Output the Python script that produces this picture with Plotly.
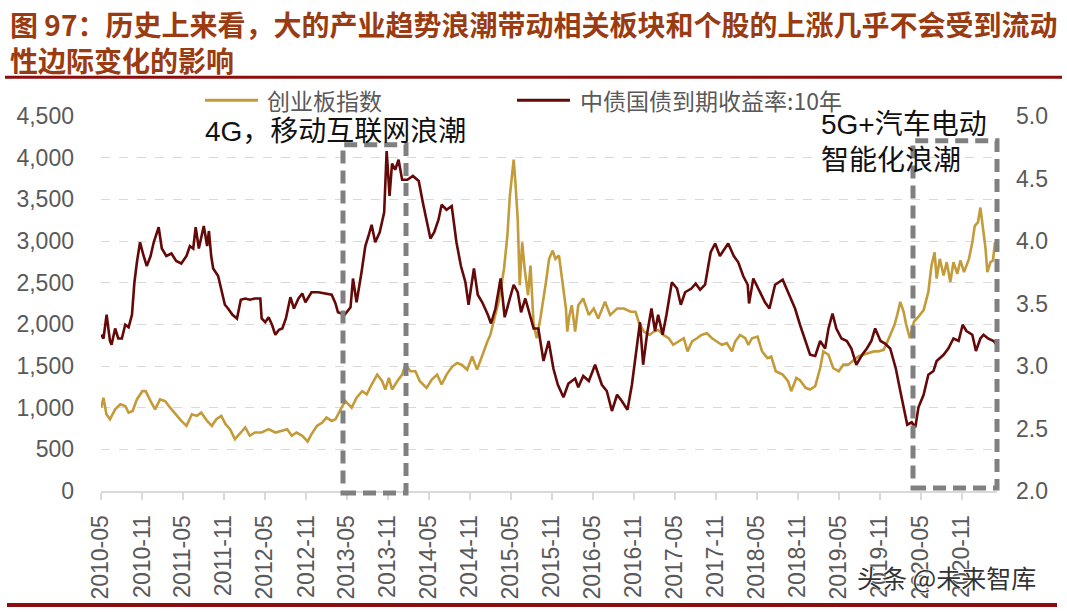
import plotly.graph_objects as go

# ---------------- data ----------------
tick_labels = ["2010-05", "2010-11", "2011-05", "2011-11", "2012-05", "2012-11",
               "2013-05", "2013-11", "2014-05", "2014-11", "2015-05", "2015-11",
               "2016-05", "2016-11", "2017-05", "2017-11", "2018-05", "2018-11",
               "2019-05", "2019-11", "2020-05", "2020-11"]
tick_dates = ["2010-05-31", "2010-11-30", "2011-05-31", "2011-11-30", "2012-05-31", "2012-11-30",
              "2013-05-31", "2013-11-30", "2014-05-31", "2014-11-30", "2015-05-31", "2015-11-30",
              "2016-05-31", "2016-11-30", "2017-05-31", "2017-11-30", "2018-05-31", "2018-11-30",
              "2019-05-31", "2019-11-30", "2020-05-31", "2020-11-30"]

# 创业板指数 (left axis)
cyb_dates = [
    "2010-06-01", "2010-06-11", "2010-06-24", "2010-07-10", "2010-08-02", "2010-08-25", "2010-09-16",
    "2010-10-01", "2010-10-19", "2010-11-07", "2010-12-01", "2010-12-16", "2011-01-07", "2011-01-27",
    "2011-02-18", "2011-03-13", "2011-04-04", "2011-05-04", "2011-05-24", "2011-06-16", "2011-07-10",
    "2011-08-01", "2011-08-21", "2011-09-16", "2011-10-07", "2011-10-27", "2011-11-18", "2011-12-07",
    "2011-12-27", "2012-01-18", "2012-02-13", "2012-03-04", "2012-03-24", "2012-04-16", "2012-05-16",
    "2012-06-16", "2012-07-16", "2012-08-16", "2012-09-07", "2012-09-27", "2012-10-18", "2012-11-13",
    "2012-12-07", "2012-12-24", "2013-01-18", "2013-02-10", "2013-03-01", "2013-03-24", "2013-04-10",
    "2013-05-07", "2013-05-24", "2013-06-21", "2013-07-13", "2013-08-07", "2013-08-27", "2013-09-18",
    "2013-10-13", "2013-11-04", "2013-11-18", "2013-12-04", "2013-12-18", "2014-01-10", "2014-02-01",
    "2014-02-16", "2014-03-10", "2014-04-01", "2014-04-21", "2014-05-21", "2014-06-13", "2014-07-07",
    "2014-07-27", "2014-08-18", "2014-09-13", "2014-10-04", "2014-10-24", "2014-11-18", "2014-12-10",
    "2015-01-01", "2015-01-24", "2015-02-16", "2015-03-01", "2015-03-16", "2015-04-07", "2015-05-01",
    "2015-05-16", "2015-05-27", "2015-06-13", "2015-06-21", "2015-07-01", "2015-07-10", "2015-07-21",
    "2015-08-01", "2015-08-16", "2015-08-27", "2015-09-10", "2015-09-24", "2015-10-10", "2015-11-04",
    "2015-11-18", "2015-12-04", "2015-12-16", "2016-01-01", "2016-01-16", "2016-02-01", "2016-02-07",
    "2016-02-16", "2016-02-27", "2016-03-13", "2016-03-27", "2016-04-18", "2016-05-13", "2016-06-04",
    "2016-06-24", "2016-07-24", "2016-08-16", "2016-09-16", "2016-10-16", "2016-11-16", "2016-12-07",
    "2016-12-21", "2017-01-13", "2017-02-07", "2017-02-27", "2017-03-18", "2017-04-10", "2017-05-04",
    "2017-05-24", "2017-06-16", "2017-07-10", "2017-07-27", "2017-08-16", "2017-09-07", "2017-09-27",
    "2017-10-21", "2017-11-13", "2017-12-04", "2017-12-27", "2018-01-18", "2018-02-10", "2018-02-24",
    "2018-03-18", "2018-04-10", "2018-04-24", "2018-05-10", "2018-06-04", "2018-06-24", "2018-07-18",
    "2018-08-04", "2018-08-24", "2018-09-24", "2018-10-18", "2018-11-01", "2018-11-24", "2018-12-10",
    "2019-01-04", "2019-01-24", "2019-02-16", "2019-03-10", "2019-03-24", "2019-04-16", "2019-05-07",
    "2019-06-01", "2019-06-21", "2019-07-13", "2019-08-07", "2019-08-27", "2019-09-18", "2019-10-13",
    "2019-11-04", "2019-11-24", "2019-12-18", "2020-01-10", "2020-02-04", "2020-02-16", "2020-03-01",
    "2020-03-16", "2020-03-27", "2020-04-13", "2020-05-01", "2020-05-21", "2020-06-13", "2020-07-04",
    "2020-07-18", "2020-08-01", "2020-08-10", "2020-08-24", "2020-09-10", "2020-09-24", "2020-10-10",
    "2020-10-24", "2020-11-10", "2020-11-24", "2020-12-10", "2021-01-01", "2021-01-16", "2021-01-27",
    "2021-02-10", "2021-02-21", "2021-03-04", "2021-03-16", "2021-03-24", "2021-04-07", "2021-04-18",
    "2021-04-27"]
cyb_values = [
    1000, 1119, 921, 861, 980, 1040, 1020,
    940, 960, 1099, 1198, 1198, 1079, 980,
    1099, 1079, 1000, 901, 841, 782, 921,
    901, 940, 841, 782, 861, 901, 802,
    742, 623, 702, 762, 663, 702, 702,
    742, 702, 722, 742, 663, 702, 663,
    595, 683, 782, 821, 881, 841, 861,
    1000, 1079, 1000, 1119, 1198, 1159, 1278,
    1397, 1317, 1218, 1357, 1218, 1317, 1397,
    1516, 1437, 1437, 1317, 1238, 1337, 1397,
    1278, 1397, 1496, 1536, 1516, 1456, 1615,
    1456, 1635, 1794, 1873, 2032, 2270, 2667,
    3063, 3540, 3976, 3698, 3262, 2468, 2984,
    2667, 2349, 2706, 1992, 1833, 2071, 2508,
    2786, 2885, 2786, 2825, 2508, 2190, 1913,
    2100, 2230, 1913, 2230, 2310, 2111, 2190,
    2071, 2270, 2111, 2190, 2190, 2151, 2151,
    2032, 1913, 1873, 1913, 1933, 1873, 1833,
    1754, 1794, 1833, 1675, 1794, 1833, 1873,
    1893, 1833, 1794, 1754, 1774, 1675, 1794,
    1873, 1833, 1754, 1833, 1853, 1675, 1595,
    1615, 1437, 1397, 1317, 1198, 1357, 1330,
    1238, 1218, 1258, 1476, 1675, 1635, 1476,
    1437, 1516, 1516, 1575, 1615, 1635, 1655,
    1675, 1675, 1694, 1833, 1992, 2111, 2270,
    2151, 2000, 1833, 2032, 2091, 2171, 2389,
    2706, 2865, 2548, 2786, 2587, 2746, 2508,
    2746, 2607, 2766, 2627, 2786, 2984, 3183,
    3222, 3401, 3143, 2905, 2627, 2746, 2766,
    2984]

# 中债国债到期收益率:10年 (right axis, %)
bond_dates = [
    "2010-06-01", "2010-06-11", "2010-06-25", "2010-07-10", "2010-07-17", "2010-08-02", "2010-08-16",
    "2010-09-01", "2010-09-16", "2010-10-01", "2010-10-16", "2010-10-27", "2010-11-07", "2010-11-21",
    "2010-12-07", "2010-12-21", "2011-01-07", "2011-01-21", "2011-02-12", "2011-02-26", "2011-03-18",
    "2011-04-10", "2011-05-01", "2011-05-24", "2011-06-16", "2011-07-01", "2011-07-16", "2011-07-27",
    "2011-08-10", "2011-09-01", "2011-09-16", "2011-09-24", "2011-10-04", "2011-10-13", "2011-11-04",
    "2011-11-18", "2011-12-04", "2011-12-18", "2012-01-07", "2012-01-27", "2012-02-13", "2012-03-04",
    "2012-03-24", "2012-04-16", "2012-05-10", "2012-05-16", "2012-06-01", "2012-06-16", "2012-07-01",
    "2012-07-16", "2012-08-01", "2012-08-16", "2012-09-01", "2012-09-21", "2012-10-07", "2012-10-27",
    "2012-11-13", "2012-11-27", "2012-12-24", "2013-01-24", "2013-02-24", "2013-03-24", "2013-04-10",
    "2013-04-21", "2013-05-21", "2013-06-16", "2013-06-27", "2013-07-13", "2013-08-04", "2013-08-21",
    "2013-09-04", "2013-09-18", "2013-10-04", "2013-10-24", "2013-11-13", "2013-11-24", "2013-12-07",
    "2013-12-18", "2014-01-01", "2014-01-16", "2014-02-01", "2014-02-24", "2014-03-21", "2014-04-16",
    "2014-05-04", "2014-05-21", "2014-06-07", "2014-06-24", "2014-07-13", "2014-07-27", "2014-08-18",
    "2014-09-10", "2014-10-01", "2014-10-21", "2014-11-10", "2014-11-24", "2014-12-18", "2015-01-04",
    "2015-01-24", "2015-02-18", "2015-03-04", "2015-03-24", "2015-04-16", "2015-05-04", "2015-05-24",
    "2015-06-13", "2015-07-01", "2015-07-16", "2015-08-04", "2015-08-24", "2015-09-10", "2015-10-01",
    "2015-10-24", "2015-11-16", "2015-12-07", "2015-12-27", "2016-01-21", "2016-02-12", "2016-03-13",
    "2016-03-27", "2016-04-18", "2016-05-13", "2016-06-10", "2016-07-10", "2016-08-01", "2016-08-24",
    "2016-09-16", "2016-10-07", "2016-11-01", "2016-11-21", "2016-12-13", "2016-12-27", "2017-01-10",
    "2017-01-27", "2017-02-16", "2017-03-04", "2017-03-18", "2017-04-07", "2017-04-24", "2017-05-18",
    "2017-06-10", "2017-06-27", "2017-07-16", "2017-08-13", "2017-09-01", "2017-09-21", "2017-10-13",
    "2017-11-07", "2017-11-27", "2017-12-18", "2018-01-24", "2018-02-18", "2018-03-10", "2018-04-01",
    "2018-04-21", "2018-04-27", "2018-05-16", "2018-06-07", "2018-07-07", "2018-07-27", "2018-08-21",
    "2018-09-24", "2018-10-18", "2018-11-18", "2018-12-10", "2019-01-04", "2019-01-24", "2019-02-16",
    "2019-03-10", "2019-04-01", "2019-04-16", "2019-05-04", "2019-05-21", "2019-06-13", "2019-07-07",
    "2019-07-27", "2019-08-18", "2019-09-13", "2019-10-04", "2019-10-24", "2019-11-10", "2019-12-04",
    "2019-12-24", "2020-01-16", "2020-02-10", "2020-03-01", "2020-03-16", "2020-04-01", "2020-04-21",
    "2020-05-07", "2020-05-21", "2020-06-13", "2020-07-04", "2020-07-27", "2020-08-10", "2020-09-10",
    "2020-10-01", "2020-10-24", "2020-11-16", "2020-12-04", "2020-12-21", "2021-01-16", "2021-02-01",
    "2021-02-21", "2021-03-07", "2021-03-27", "2021-04-21", "2021-05-04"]
bond_values = [
    3.25, 3.22, 3.41, 3.20, 3.17, 3.30, 3.22,
    3.22, 3.33, 3.31, 3.41, 3.67, 3.83, 3.99,
    3.88, 3.80, 3.88, 3.99, 4.11, 3.94, 3.88,
    3.90, 3.84, 3.82, 3.88, 3.96, 3.94, 4.11,
    3.94, 4.12, 3.96, 4.08, 3.88, 3.78, 3.72,
    3.62, 3.49, 3.46, 3.41, 3.38, 3.53, 3.54,
    3.53, 3.54, 3.54, 3.38, 3.35, 3.39, 3.33,
    3.25, 3.29, 3.30, 3.38, 3.55, 3.46, 3.54,
    3.58, 3.51, 3.59, 3.59, 3.58, 3.57, 3.50,
    3.43, 3.41, 3.47, 3.70, 3.51, 3.75, 3.96,
    4.04, 4.13, 3.99, 4.07, 4.23, 4.72, 4.36,
    4.62, 4.57, 4.65, 4.49, 4.49, 4.52, 4.48,
    4.31, 4.15, 4.02, 4.07, 4.17, 4.29, 4.25,
    4.28, 3.99, 3.80, 3.67, 3.49, 3.78, 3.57,
    3.51, 3.41, 3.34, 3.46, 3.70, 3.39, 3.51,
    3.65, 3.59, 3.43, 3.54, 3.41, 3.30, 3.30,
    3.04, 3.20, 2.98, 2.85, 2.75, 2.86, 2.90,
    2.83, 2.92, 2.88, 3.01, 2.85, 2.80, 2.64,
    2.77, 2.72, 2.65, 2.85, 3.14, 3.35, 3.01,
    3.25, 3.46, 3.28, 3.41, 3.25, 3.41, 3.67,
    3.62, 3.49, 3.59, 3.62, 3.66, 3.61, 3.65,
    3.91, 3.98, 3.88, 3.98, 3.88, 3.83, 3.72,
    3.65, 3.50, 3.70, 3.62, 3.51, 3.46, 3.65,
    3.69, 3.59, 3.46, 3.33, 3.20, 3.09, 3.08,
    3.20, 3.14, 3.30, 3.42, 3.30, 3.22, 3.20,
    3.14, 3.01, 3.09, 3.14, 3.20, 3.30, 3.20,
    3.18, 3.14, 2.98, 2.80, 2.67, 2.53, 2.55,
    2.51, 2.67, 2.77, 2.93, 2.96, 3.04, 3.09,
    3.14, 3.22, 3.20, 3.33, 3.28, 3.25, 3.12,
    3.22, 3.25, 3.22, 3.20, 3.17]

series_names = ["创业板指数", "中债国债到期收益率:10年"]
title_lines = ["图 97：历史上来看，大的产业趋势浪潮带动相关板块和个股的上涨几乎不会受到流动",
               "性边际变化的影响"]
box_labels = ["4G，移动互联网浪潮", "5G+汽车电动<br>智能化浪潮"]

# ---------------- style ----------------
GOLD = "#C39B3A"
DARK = "#640808"
GRAY_TXT = "#595959"
GRID = "#d9d9d9"
TITLE_C = "#9a3b12"
RULE_C = "#8a0e0e"
BOX_C = "#808080"
SANS = "Liberation Sans, Arial, Noto Sans CJK SC"
CJK = "Noto Sans CJK SC, Liberation Sans"

W, H = 1067, 612
L, R, T, B = 101, 70, 116, 118
PW, PH = W - L - R, H - T - B


def px(xp):
    return (xp - L) / PW


def py(yp):
    return (H - B - yp) / PH


fig = go.Figure()
fig.add_trace(go.Scatter(x=cyb_dates, y=cyb_values, mode="lines", name=series_names[0],
                         line=dict(color=GOLD, width=2.6), yaxis="y", showlegend=False))
fig.add_trace(go.Scatter(x=bond_dates, y=bond_values, mode="lines", name=series_names[1],
                         line=dict(color=DARK, width=2.6), yaxis="y2", showlegend=False))

shapes = []
annotations = []

# title (two lines in one text block)
annotations.append(dict(xref="paper", yref="paper", x=px(8), y=py(41), xanchor="left", yanchor="middle",
                        text="<b>" + title_lines[0] + "<br>" + title_lines[1] + "</b>", showarrow=False,
                        align="left", font=dict(family=CJK, size=28, color=TITLE_C)))
shapes.append(dict(type="line", xref="paper", yref="paper", x0=px(5), x1=px(1062), y0=py(77), y1=py(77),
                   line=dict(color=RULE_C, width=3)))
shapes.append(dict(type="line", xref="paper", yref="paper", x0=px(7), x1=px(1057), y0=py(609), y1=py(609),
                   line=dict(color=RULE_C, width=4)))

# legend (manual)
for (x0, x1, xt, col, name) in [(205, 258, 265, GOLD, series_names[0]), (517, 570, 578, DARK, series_names[1])]:
    shapes.append(dict(type="line", xref="paper", yref="paper", x0=px(x0), x1=px(x1), y0=py(100), y1=py(100),
                       line=dict(color=col, width=3)))
    annotations.append(dict(xref="paper", yref="paper", x=px(xt), y=py(100), xanchor="left", yanchor="middle",
                            text=name, showarrow=False, font=dict(family=CJK, size=23, color=GRAY_TXT)))

# dashed boxes
shapes.append(dict(type="rect", xref="paper", yref="paper", x0=px(343), x1=px(406), y0=py(496), y1=py(145),
                   line=dict(color=BOX_C, width=5, dash="13px,7px")))
shapes.append(dict(type="rect", xref="paper", yref="paper", x0=px(913), x1=px(997), y0=py(491), y1=py(141),
                   line=dict(color=BOX_C, width=5, dash="13px,7px")))

annotations.append(dict(xref="paper", yref="paper", x=px(203), y=py(132), xanchor="left", yanchor="middle",
                        text=box_labels[0], showarrow=False, font=dict(family=SANS, size=28, color="#111111")))
annotations.append(dict(xref="paper", yref="paper", x=px(819), y=py(143), xanchor="left", yanchor="middle",
                        text=box_labels[1], showarrow=False, align="left",
                        font=dict(family=SANS, size=28, color="#111111")))

# watermark
annotations.append(dict(xref="paper", yref="paper", x=px(855), y=py(581), xanchor="left", yanchor="middle",
                        text="头条 @未来智库", showarrow=False,
                        font=dict(family=CJK, size=25, color="#333333",
                                  shadow="1px 1px 1px #ffffff, -1px -1px 1px #ffffff")))

fig.update_layout(
    width=W, height=H,
    margin=dict(l=L, r=R, t=T, b=B, pad=0),
    paper_bgcolor="white", plot_bgcolor="white",
    shapes=shapes, annotations=annotations,
    showlegend=False,
    xaxis=dict(type="date", range=["2010-05-31", "2021-05-06"],
               tickmode="array", tickvals=tick_dates, ticktext=tick_labels, tickangle=-90,
               ticks="outside", ticklen=7, tickcolor=GRID, tickwidth=1.5,
               showline=True, linecolor=GRID, linewidth=2, showgrid=False, zeroline=False,
               tickfont=dict(family=SANS, size=23, color=GRAY_TXT), ticklabelstandoff=6),
    yaxis=dict(range=[0, 4500], dtick=500, tickformat=",", showgrid=True, gridcolor=GRID,
               griddash="dash", gridwidth=1, zeroline=False, showline=False, ticks="",
               tickfont=dict(family=SANS, size=23, color=GRAY_TXT), ticklabelstandoff=26),
    yaxis2=dict(range=[2.0, 5.0], dtick=0.5, tickformat=".1f", overlaying="y", side="right",
                showgrid=False, zeroline=False, showline=False, ticks="",
                tickfont=dict(family=SANS, size=23, color=GRAY_TXT), ticklabelstandoff=18),
)

fig.write_html("out.html")
